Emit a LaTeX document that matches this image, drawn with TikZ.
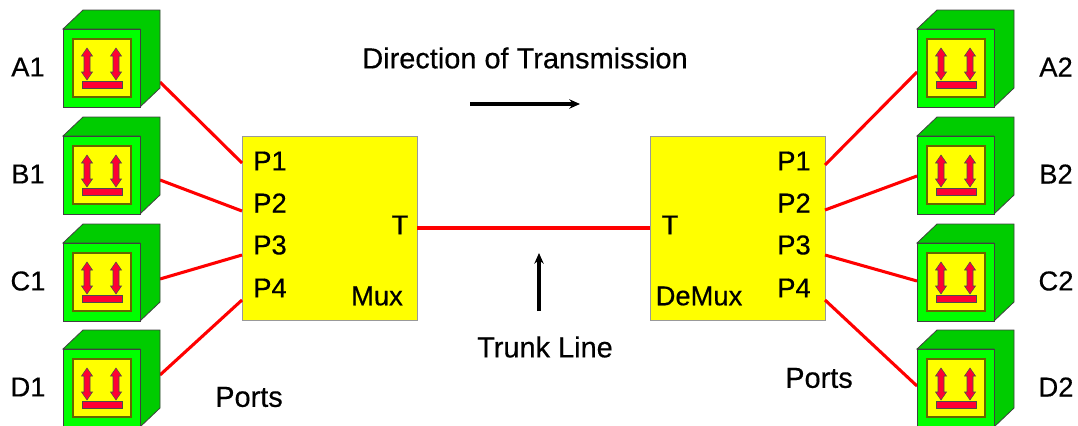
\documentclass[tikz,border=0pt]{standalone}
\usepackage{fontspec}
\setmainfont{Liberation Sans}
\newfontfamily\labelfont[FakeBold=0.45]{Liberation Sans}
\definecolor{cubefront}{RGB}{0,255,0}
\definecolor{cubeside}{RGB}{0,204,0}
\definecolor{boxyellow}{RGB}{255,255,0}
\definecolor{arrowred}{RGB}{255,0,51}
\definecolor{wirered}{RGB}{255,0,0}
\tikzset{every picture/.style={line width=0.75pt}}
\tikzset{
	label text/.style={font=\labelfont\fontsize{20.5}{24}\selectfont, inner sep=0pt},
	long text/.style={font=\labelfont\fontsize{21.7}{26}\selectfont, inner sep=0pt},
	wire/.style={draw=wirered, line width=2.3pt},
	big box/.style={draw={rgb, 255:red, 153; green, 153; blue, 153}, fill=boxyellow, line width=0.75pt},
	flow arrow/.style={line width=2.4pt, -{Stealth[length=8pt,width=7pt]}}}
\usetikzlibrary{arrows.meta}

% device cube: name, left and top of the front face
\newcommand{\devcube}[3]{
	\begin{scope}[shift={(#2,#3)}]
		\draw [fill=cubeside, line width=0.6pt, draw=black!75] (0,0) -- (20,-19) -- (97,-19) -- (97,59) -- (77,78) -- (77,0) -- cycle ;
		\node [draw=black!75, fill=cubefront, line width=0.6pt, minimum width=57.75pt, minimum height=58.5pt, inner sep=0pt, anchor=north west] (#1) at (0,0) {};
		\draw [fill=boxyellow, draw={rgb, 255:red, 102; green, 102; blue, 0}, line width=0.9pt] (10,10) rectangle (68,68) ;
		\foreach \ax in {24,53} {
			\draw [fill=arrowred, draw=black!70, line width=0.4pt] (\ax,19) -- (\ax+5.5,27) -- (\ax+3,27) -- (\ax+3,43) -- (\ax+5.5,43) -- (\ax,51) -- (\ax-5.5,43) -- (\ax-3,43) -- (\ax-3,27) -- (\ax-5.5,27) -- cycle ;
		}
		\draw [fill=arrowred, draw=black!70, line width=0.3pt] (19,52.5) rectangle (59,59.5) ;
	\end{scope}
}

\begin{document}
\begin{tikzpicture}[x=0.75pt,y=0.75pt,yscale=-1,xscale=1]
		\useasboundingbox (0,0) rectangle (1078,425);

		% Wire ends on the cubes
		\coordinate (endA1) at (160,82);
		\coordinate (endB1) at (160,180);
		\coordinate (endC1) at (160,279);
		\coordinate (endD1) at (160,375);
		\coordinate (endA2) at (917,72);
		\coordinate (endB2) at (917,176);
		\coordinate (endC2) at (917,281);
		\coordinate (endD2) at (917,386);

		% Mux and DeMux
		\node [big box, minimum width=131.25pt, minimum height=138pt, inner sep=0pt, anchor=north west] (mux) at (242,136) {};
		\node [big box, minimum width=131.25pt, minimum height=138pt, inner sep=0pt, anchor=north west] (demux) at (650,136) {};

		% Wire ends on the boxes
		\coordinate (muxP1) at (242,163);
		\coordinate (muxP2) at (242,211);
		\coordinate (muxP3) at (242,255);
		\coordinate (muxP4) at (242,300);
		\coordinate (demuxP1) at (825,165);
		\coordinate (demuxP2) at (825,210);
		\coordinate (demuxP3) at (825,255);
		\coordinate (demuxP4) at (825,300);
		\coordinate (muxT) at (417,228);
		\coordinate (demuxT) at (650,228);

		% Red lines
		\draw [wire] (endA1) -- (muxP1) ;
		\draw [wire] (endB1) -- (muxP2) ;
		\draw [wire] (endC1) -- (muxP3) ;
		\draw [wire] (endD1) -- (muxP4) ;
		\draw [wire] (endA2) -- (demuxP1) ;
		\draw [wire] (endB2) -- (demuxP2) ;
		\draw [wire] (endC2) -- (demuxP3) ;
		\draw [wire] (endD2) -- (demuxP4) ;
		\draw [wire] (muxT) -- (demuxT) ;

		% Cubes
		\devcube{cubeA1}{63}{29}
		\devcube{cubeB1}{63}{136}
		\devcube{cubeC1}{63}{243}
		\devcube{cubeD1}{63}{349}
		\devcube{cubeA2}{917}{29}
		\devcube{cubeB2}{917}{136}
		\devcube{cubeC2}{917}{243}
		\devcube{cubeD2}{917}{349}

		% Black arrows
		\coordinate (dirStart) at (470,104);
		\coordinate (dirEnd) at (580,104);
		\coordinate (trunkStart) at (539,311);
		\coordinate (trunkEnd) at (539,253);
		\draw [flow arrow] (dirStart) -- (dirEnd) ;
		\draw [flow arrow] (trunkStart) -- (trunkEnd) ;

		% Text Node
		\node [label text] (labelA1) at (28,67) {A1};
		\node [label text] (labelB1) at (28,174) {B1};
		\node [label text] (labelC1) at (28,281) {C1};
		\node [label text] (labelD1) at (28,387) {D1};
		\node [label text] (labelA2) at (1056,67) {A2};
		\node [label text] (labelB2) at (1056,174) {B2};
		\node [label text] (labelC2) at (1056,281) {C2};
		\node [label text] (labelD2) at (1056,387) {D2};
		\node [label text] (portP1) at (270,161) {P1};
		\node [label text] (portP2) at (270,203) {P2};
		\node [label text] (portP3) at (270,245) {P3};
		\node [label text] (portP4) at (270,288) {P4};
		\node [label text] (portQ1) at (794,161) {P1};
		\node [label text] (portQ2) at (794,203) {P2};
		\node [label text] (portQ3) at (794,245) {P3};
		\node [label text] (portQ4) at (794,288) {P4};
		\node [label text] (portT) at (400,225) {T};
		\node [label text] (portU) at (670,225) {T};
		\node [label text] (labelMux) at (377,296) {Mux};
		\node [label text] (labelDeMux) at (699,296) {DeMux};
		\node [long text] (portsLeft) at (249,397) {Ports};
		\node [long text] (portsRight) at (819,378) {Ports};
		\node [long text] (labelDirection) at (525,58) {Direction of Transmission};
		\node [long text] (labelTrunk) at (545,347) {Trunk Line};

		\end{tikzpicture}
\end{document}
